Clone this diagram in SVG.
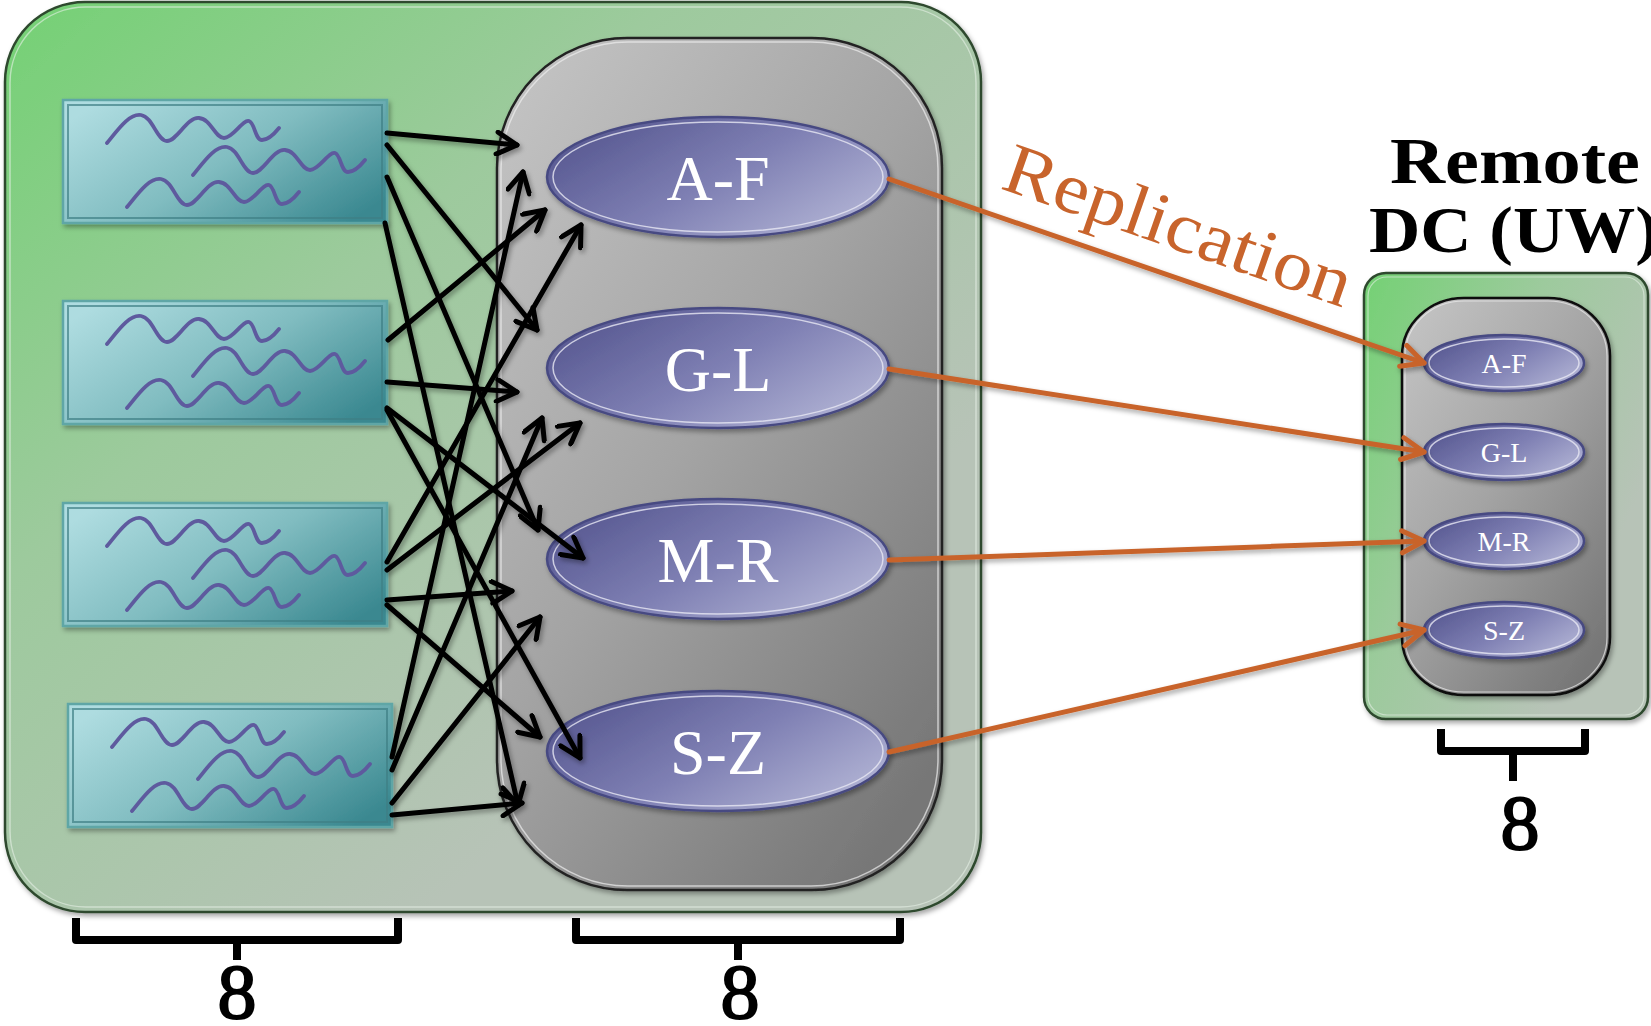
<svg xmlns="http://www.w3.org/2000/svg" xmlns:xlink="http://www.w3.org/1999/xlink" width="1651" height="1026" viewBox="0 0 1651 1026">
<defs>
<style>
.serif{font-family:"Liberation Serif","DejaVu Serif",serif;}
.big{font-size:64px;fill:#fff;text-anchor:middle;}
.small{font-size:28px;fill:#fff;text-anchor:middle;}
.num{font-size:78px;fill:#000;stroke:#000;stroke-width:2;text-anchor:middle;}
.arr{stroke:#000;stroke-width:5;fill:none;stroke-linecap:round;marker-end:url(#mk);}
.rep{stroke:#C8642C;stroke-width:5;fill:none;stroke-linecap:round;marker-end:url(#mko);}
.wave{fill:none;stroke:#5E5A9E;stroke-width:3.8;stroke-linecap:round;}
.br{fill:none;stroke:#000;stroke-width:8;stroke-linejoin:round;}
.ell{fill:url(#gEll);stroke:#474a82;stroke-width:2.5;}
.ellin{fill:none;stroke:#e8e8f4;stroke-width:1.5;opacity:0.8;}
.box{fill:url(#gBox);stroke:#5FA6A6;stroke-width:2.5;}
.boxin{fill:none;stroke:#3F7F84;stroke-width:2;opacity:0.7;}
</style>
<linearGradient id="gGreen" x1="0" y1="0" x2="0.7" y2="0.75">
<stop offset="0" stop-color="#74D174"/>
<stop offset="0.45" stop-color="#9DCA9D"/>
<stop offset="1" stop-color="#B7C3B7"/>
</linearGradient>
<linearGradient id="gGreenS" x1="0" y1="0" x2="0.9" y2="0.6">
<stop offset="0" stop-color="#74D174"/>
<stop offset="0.5" stop-color="#9DCA9D"/>
<stop offset="1" stop-color="#B7C3B7"/>
</linearGradient>
<linearGradient id="gGray" x1="0" y1="0" x2="0.8" y2="1">
<stop offset="0" stop-color="#C6C6C6"/>
<stop offset="0.5" stop-color="#A4A4A4"/>
<stop offset="1" stop-color="#777"/>
</linearGradient>
<linearGradient id="gBox" x1="0" y1="0.2" x2="1" y2="0.8">
<stop offset="0" stop-color="#AEDCE0"/>
<stop offset="0.5" stop-color="#80BCC0"/>
<stop offset="1" stop-color="#3A8890"/>
</linearGradient>
<linearGradient id="gEll" x1="0" y1="0.2" x2="1" y2="0.8">
<stop offset="0" stop-color="#55568F"/>
<stop offset="0.5" stop-color="#7E7FB3"/>
<stop offset="1" stop-color="#B4B6D6"/>
</linearGradient>
<filter id="sh" x="-10%" y="-10%" width="130%" height="130%">
<feDropShadow dx="2" dy="3" stdDeviation="2.5" flood-color="#000" flood-opacity="0.35"/>
</filter>
<marker id="mk" markerUnits="userSpaceOnUse" viewBox="0 0 26 26" markerWidth="26" markerHeight="26" refX="23" refY="13" orient="auto">
<path d="M3,2 L23,13 L3,24" fill="none" stroke="#000" stroke-width="5" stroke-linecap="round" stroke-linejoin="round"/>
</marker>
<marker id="mko" markerUnits="userSpaceOnUse" viewBox="0 0 28 28" markerWidth="28" markerHeight="28" refX="25" refY="14" orient="auto">
<path d="M3,3 L25,14 L3,25" fill="none" stroke="#C8642C" stroke-width="5" stroke-linecap="round" stroke-linejoin="round"/>
</marker>
<path id="wv" d="M0,0 C10,-12 22,-30 34,-28 C46,-26 50,-2 60,-2 C70,-2 80,-26 92,-25 C104,-24 108,-5 117,-5 C126,-5 136,-24 142,-22 C148,-20 148,-3 155,-3 C162,-3 168,-10 172,-15"/>
<g id="waves">
<use xlink:href="#wv" class="wave" x="44" y="43"/>
<use xlink:href="#wv" class="wave" x="130" y="75"/>
<use xlink:href="#wv" class="wave" x="64" y="107"/>
</g>
</defs>

<g id="local-dc">
<rect x="5" y="2" width="976" height="910" rx="80" fill="url(#gGreen)" stroke="#2E4A2E" stroke-width="2.5" filter="url(#sh)"/>
<rect x="10" y="7" width="966" height="900" rx="76" fill="none" stroke="#E6F0E6" stroke-width="1.5" opacity="0.6"/>
</g>

<g id="storage-pill">
<rect x="497" y="38" width="445" height="852" rx="130" ry="130" fill="url(#gGray)" stroke="#222" stroke-width="2.5" filter="url(#sh)"/>
<rect x="501" y="42" width="437" height="844" rx="127" ry="127" fill="none" stroke="#EEE" stroke-width="1.5" opacity="0.7"/>
</g>

<g id="client1" transform="translate(63,100)">
<rect class="box" x="0" y="0" width="324" height="123" filter="url(#sh)"/>
<rect class="boxin" x="5" y="5" width="314" height="113"/>
<use xlink:href="#waves"/>
</g>
<g id="client2" transform="translate(63,301)">
<rect class="box" x="0" y="0" width="324" height="123" filter="url(#sh)"/>
<rect class="boxin" x="5" y="5" width="314" height="113"/>
<use xlink:href="#waves"/>
</g>
<g id="client3" transform="translate(63,503)">
<rect class="box" x="0" y="0" width="324" height="123" filter="url(#sh)"/>
<rect class="boxin" x="5" y="5" width="314" height="113"/>
<use xlink:href="#waves"/>
</g>
<g id="client4" transform="translate(68,704)">
<rect class="box" x="0" y="0" width="324" height="123" filter="url(#sh)"/>
<rect class="boxin" x="5" y="5" width="314" height="113"/>
<use xlink:href="#waves"/>
</g>

<g id="shard-AF">
<ellipse class="ell" cx="718" cy="177" rx="171" ry="60" filter="url(#sh)"/>
<ellipse class="ellin" cx="718" cy="177" rx="165" ry="55"/>
<text class="serif big" x="718" y="200">A-F</text>
</g>
<g id="shard-GL">
<ellipse class="ell" cx="718" cy="368" rx="171" ry="60" filter="url(#sh)"/>
<ellipse class="ellin" cx="718" cy="368" rx="165" ry="55"/>
<text class="serif big" x="718" y="391">G-L</text>
</g>
<g id="shard-MR">
<ellipse class="ell" cx="718" cy="559" rx="171" ry="60" filter="url(#sh)"/>
<ellipse class="ellin" cx="718" cy="559" rx="165" ry="55"/>
<text class="serif big" x="718" y="582">M-R</text>
</g>
<g id="shard-SZ">
<ellipse class="ell" cx="718" cy="751" rx="171" ry="60" filter="url(#sh)"/>
<ellipse class="ellin" cx="718" cy="751" rx="165" ry="55"/>
<text class="serif big" x="718" y="774">S-Z</text>
</g>

<g id="remote-dc">
<rect x="1364" y="273" width="284" height="446" rx="22" fill="url(#gGreenS)" stroke="#2E4A2E" stroke-width="2.5" filter="url(#sh)"/>
<rect x="1368" y="277" width="276" height="438" rx="19" fill="none" stroke="#E6F0E6" stroke-width="1.2" opacity="0.6"/>
<rect x="1402" y="298" width="208" height="397" rx="62" ry="58" fill="url(#gGray)" stroke="#111" stroke-width="2.5" filter="url(#sh)"/>
<rect x="1405" y="301" width="202" height="391" rx="59" ry="55" fill="none" stroke="#EEE" stroke-width="1.2" opacity="0.7"/>
</g>
<g id="remote-AF">
<ellipse class="ell" cx="1504" cy="363" rx="80" ry="28" filter="url(#sh)"/>
<ellipse class="ellin" cx="1504" cy="363" rx="75" ry="24"/>
<text class="serif small" x="1504" y="373">A-F</text>
</g>
<g id="remote-GL">
<ellipse class="ell" cx="1504" cy="452" rx="80" ry="28" filter="url(#sh)"/>
<ellipse class="ellin" cx="1504" cy="452" rx="75" ry="24"/>
<text class="serif small" x="1504" y="462">G-L</text>
</g>
<g id="remote-MR">
<ellipse class="ell" cx="1504" cy="541" rx="80" ry="28" filter="url(#sh)"/>
<ellipse class="ellin" cx="1504" cy="541" rx="75" ry="24"/>
<text class="serif small" x="1504" y="551">M-R</text>
</g>
<g id="remote-SZ">
<ellipse class="ell" cx="1504" cy="630" rx="80" ry="28" filter="url(#sh)"/>
<ellipse class="ellin" cx="1504" cy="630" rx="75" ry="24"/>
<text class="serif small" x="1504" y="640">S-Z</text>
</g>

<g id="remote-title">
<text class="serif" x="1515" y="183" font-size="65" font-weight="bold" text-anchor="middle" textLength="250" lengthAdjust="spacingAndGlyphs">Remote</text>
<text class="serif" x="1514" y="252" font-size="65" font-weight="bold" text-anchor="middle" textLength="290" lengthAdjust="spacingAndGlyphs">DC (UW)</text>
</g>

<g id="connectors">
<g filter="url(#sh)">
<line class="arr" x1="387" y1="133" x2="517" y2="145"/>
<line class="arr" x1="387" y1="145" x2="537" y2="330"/>
<line class="arr" x1="387" y1="177" x2="538" y2="530"/>
<line class="arr" x1="385" y1="223" x2="518" y2="805"/>
<line class="arr" x1="388" y1="340" x2="545" y2="210"/>
<line class="arr" x1="387" y1="382" x2="517" y2="392"/>
<line class="arr" x1="387" y1="408" x2="583" y2="558"/>
<line class="arr" x1="387" y1="410" x2="580" y2="758"/>
<line class="arr" x1="387" y1="562" x2="581" y2="225"/>
<line class="arr" x1="387" y1="570" x2="580" y2="423"/>
<line class="arr" x1="387" y1="600" x2="512" y2="591"/>
<line class="arr" x1="387" y1="605" x2="540" y2="737"/>
<line class="arr" x1="392" y1="757" x2="523" y2="172"/>
<line class="arr" x1="392" y1="770" x2="542" y2="418"/>
<line class="arr" x1="392" y1="803" x2="540" y2="617"/>
<line class="arr" x1="392" y1="815" x2="522" y2="803"/>
</g>
<g filter="url(#sh)">
<line class="rep" x1="889" y1="179" x2="1424" y2="363"/>
<line class="rep" x1="889" y1="369" x2="1424" y2="452"/>
<line class="rep" x1="889" y1="560" x2="1424" y2="541"/>
<line class="rep" x1="889" y1="752" x2="1424" y2="630"/>
</g>
<text class="serif" x="999" y="188" font-size="72" fill="#C8642C" textLength="364" lengthAdjust="spacingAndGlyphs" transform="rotate(19.2 999 188)">Replication</text>
</g>

<g id="brackets">
<path class="br" d="M76,918 V940 H398 V918 M237,940 V960"/>
<text class="serif num" x="237" y="1018">8</text>
<path class="br" d="M576,918 V940 H900 V918 M738,940 V960"/>
<text class="serif num" x="740" y="1018">8</text>
<path class="br" d="M1441,729 V751 H1585 V729 M1513,751 V781"/>
<text class="serif num" x="1520" y="849">8</text>
</g>
</svg>
